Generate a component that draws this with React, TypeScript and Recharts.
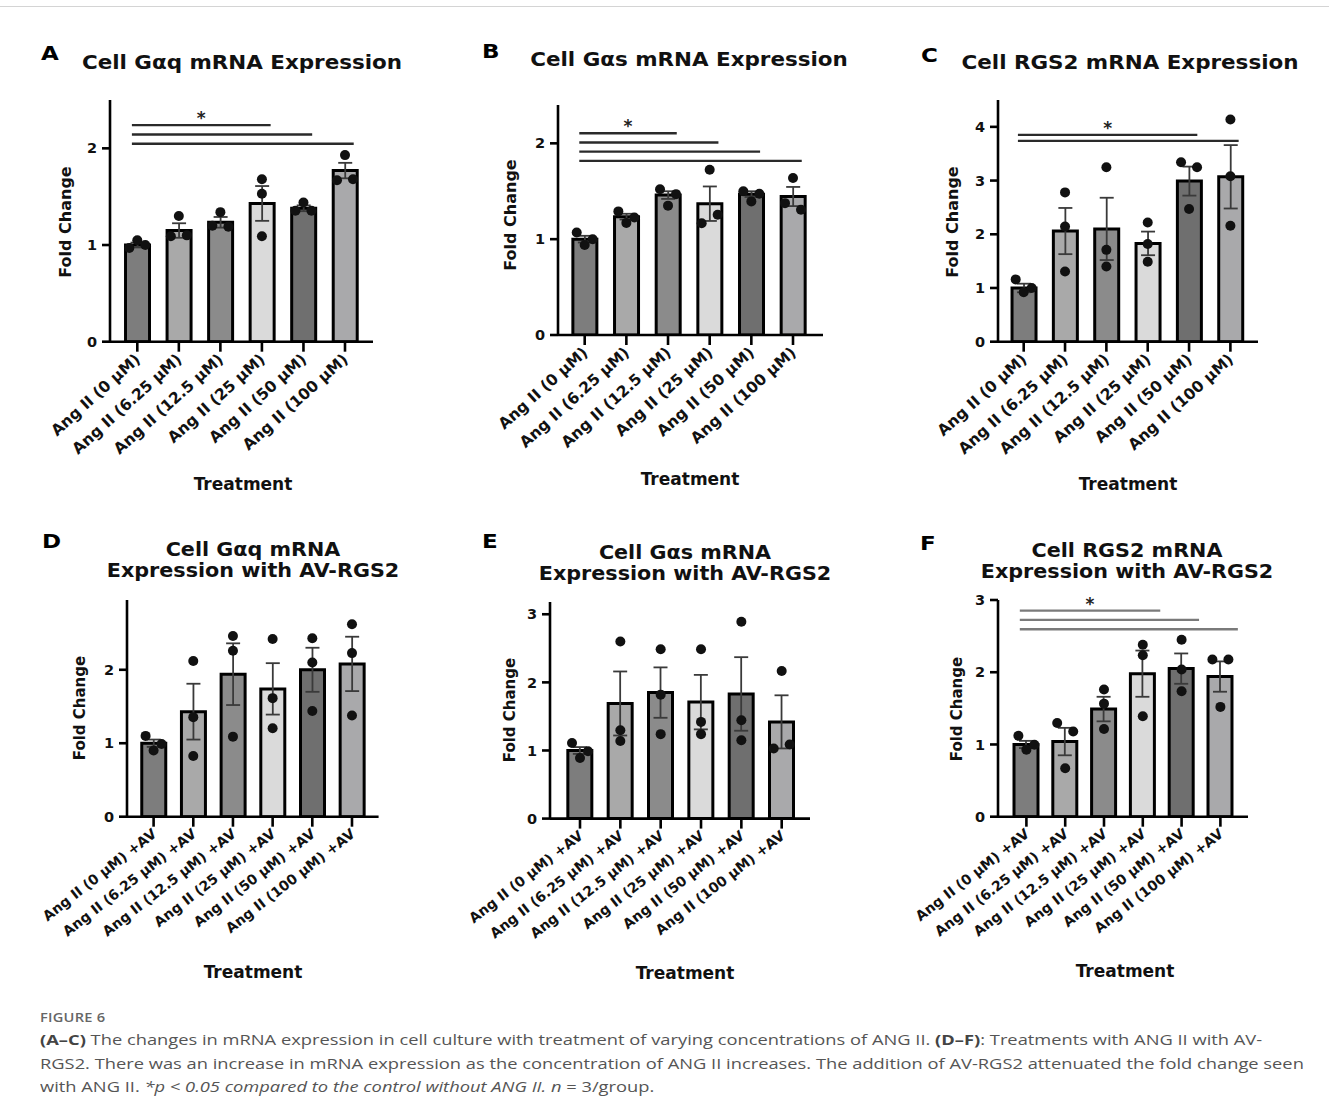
import React from 'react';
import { ComposedChart, Bar, XAxis, YAxis, Scatter, ErrorBar, ReferenceLine, Cell } from 'recharts';

// ---------- data ----------
const ticksTop = ['Ang II (0 µM)', 'Ang II (6.25 µM)', 'Ang II (12.5 µM)', 'Ang II (25 µM)', 'Ang II (50 µM)', 'Ang II (100 µM)'];
const ticksBottom = ['Ang II (0 µM) +AV', 'Ang II (6.25 µM) +AV', 'Ang II (12.5 µM) +AV', 'Ang II (25 µM) +AV', 'Ang II (50 µM) +AV', 'Ang II (100 µM) +AV'];

const meansA = [1.0, 1.15, 1.235, 1.43, 1.38, 1.77];
const semsA = [0.025, 0.075, 0.055, 0.18, 0.03, 0.08];
const pointsA = [[0.97, 1.05, 1.0], [1.09, 1.3, 1.1], [1.2, 1.34, 1.19], [1.68, 1.53, 1.09], [1.355, 1.44, 1.355], [1.67, 1.93, 1.68]];
const sigA = [[1, 4], [1, 5], [1, 6]];

const meansB = [1.0, 1.235, 1.46, 1.37, 1.47, 1.445];
const semsB = [0.035, 0.03, 0.04, 0.18, 0.03, 0.1];
const pointsB = [[1.07, 0.94, 1.0], [1.29, 1.17, 1.226], [1.52, 1.35, 1.47], [1.167, 1.725, 1.254], [1.5, 1.394, 1.474], [1.638, 1.376, 1.307]];
const sigB = [[1, 3], [1, 4], [1, 5], [1, 6]];

const meansC = [1.0, 2.06, 2.1, 1.83, 2.99, 3.07];
const semsC = [0.08, 0.43, 0.58, 0.22, 0.27, 0.59];
const pointsC = [[1.16, 0.92, 1.0], [2.78, 2.146, 1.306], [3.247, 1.71, 1.4], [2.22, 1.82, 1.49], [3.34, 2.47, 3.247], [4.137, 3.08, 2.159]];
const sigC = [[1, 5], [1, 6]];

const meansD = [1.0, 1.43, 1.94, 1.74, 2.0, 2.08];
const semsD = [0.05, 0.38, 0.42, 0.35, 0.3, 0.37];
const pointsD = [[1.1, 0.9, 0.99], [2.12, 1.355, 0.827], [2.46, 2.26, 1.09], [2.418, 1.614, 1.205], [2.43, 2.1, 1.44], [2.62, 2.227, 1.377]];
const sigD: number[][] = [];

const meansE = [1.0, 1.69, 1.85, 1.71, 1.83, 1.42];
const semsE = [0.05, 0.47, 0.37, 0.4, 0.54, 0.39];
const pointsE = [[1.11, 0.89, 0.99], [2.6, 1.297, 1.14], [2.486, 1.82, 1.24], [2.486, 1.42, 1.24], [2.89, 1.444, 1.15], [1.028, 2.168, 1.087]];
const sigE: number[][] = [];

const meansF = [1.0, 1.04, 1.49, 1.98, 2.05, 1.94];
const semsF = [0.05, 0.19, 0.17, 0.32, 0.21, 0.21];
const pointsF = [[1.12, 0.926, 0.995], [1.296, 0.671, 1.18], [1.76, 1.565, 1.213], [2.38, 2.236, 1.39], [2.45, 2.037, 1.736], [2.176, 1.52, 2.176]];
const sigF = [[1, 4], [1, 5], [1, 6]];

// ---------- style / layout ----------
const FONT = '"DejaVu Sans", Verdana, sans-serif';
const CAPTION_FONT = '"Open Sans", sans-serif';
const BAR_FILLS = ['#7d7d7d', '#a9a9a9', '#8b8b8b', '#dadada', '#6f6f6f', '#a9a9ab'];

type Layout = {
  x0: number; x1: number; y0: number; y1: number; yMax: number; yTicks: number[];
  c1: number; c6: number; tickAngle: number; tickFont: number;
  sigTop?: number; sigStep?: number; sigStartOff?: number; sigEndOff?: number; sigColor?: string;
};

const LA: Layout = { x0: 110, x1: 373, y0: 100, y1: 341.7, yMax: 2.5, yTicks: [0, 1, 2], c1: 137.3, c6: 345, tickAngle: -42, tickFont: 15.5, sigTop: 2.24, sigStep: 9.3, sigStartOff: -0.13, sigEndOff: 0.21, sigColor: '#2a2a2a' };
const LB: Layout = { x0: 558.3, x1: 823.3, y0: 105, y1: 335, yMax: 2.4, yTicks: [0, 1, 2], c1: 585, c6: 793.3, tickAngle: -42, tickFont: 15.5, sigTop: 2.105, sigStep: 9.2, sigStartOff: -0.13, sigEndOff: 0.21, sigColor: '#2a2a2a' };
const LC: Layout = { x0: 998.3, x1: 1258.3, y0: 100, y1: 341.7, yMax: 4.5, yTicks: [0, 1, 2, 3, 4], c1: 1024, c6: 1230.7, tickAngle: -42, tickFont: 15.5, sigTop: 3.85, sigStep: 6, sigStartOff: -0.14, sigEndOff: 0.2, sigColor: '#2a2a2a' };
const LD: Layout = { x0: 126.7, x1: 378.3, y0: 600, y1: 816.7, yMax: 2.95, yTicks: [0, 1, 2], c1: 153.3, c6: 351.7, tickAngle: -38, tickFont: 14 };
const LE: Layout = { x0: 550, x1: 810, y0: 601.7, y1: 818.3, yMax: 3.18, yTicks: [0, 1, 2, 3], c1: 580, c6: 781.7, tickAngle: -38, tickFont: 14 };
const LF: Layout = { x0: 998.3, x1: 1248.3, y0: 600, y1: 816.7, yMax: 3, yTicks: [0, 1, 2, 3], c1: 1026.7, c6: 1220.7, tickAngle: -38, tickFont: 14, sigTop: 2.853, sigStep: 9.3, sigStartOff: -0.17, sigEndOff: 0.45, sigColor: '#7a7a7a' };

// Spread overlapping replicate dots horizontally (Prism-like scatter)
function layoutDots(points: number[][], yPx: number, xPx: number) {
  const out: { x: number; y: number }[] = [];
  const step = 8 / xPx;
  points.forEach((vals, i) => {
    const idx = vals.map((_, k) => k).sort((a, b) => vals[a] - vals[b]);
    const clusters: number[][] = [];
    idx.forEach((k) => {
      const last = clusters[clusters.length - 1];
      if (last && (vals[k] - vals[last[last.length - 1]]) * yPx < 10) last.push(k);
      else clusters.push([k]);
    });
    clusters.forEach((c) => {
      const ordered = [...c].sort((a, b) => a - b);
      const n = ordered.length;
      ordered.forEach((k, r) => {
        let off = 0;
        if (n === 2) off = r === 0 ? -1 : 1;
        else if (n >= 3) off = r - (n - 1) / 2;
        out.push({ x: i + 1 + off * step, y: vals[k] });
      });
    });
  });
  return out;
}

const XTick = (props: any) => {
  const { x, y, payload, labels, angle, fontSize } = props;
  const ax = x + 4;
  const ay = y + 7;
  return (
    <text x={ax} y={ay} transform={`rotate(${angle} ${ax} ${ay})`} textAnchor="end" fontFamily={FONT} fontWeight={700} fontSize={fontSize} fill="#111">
      {labels[payload.value - 1]}
    </text>
  );
};

type PanelProps = { L: Layout; labels: string[]; means: number[]; sems: number[]; points: number[][]; sig: number[][] };

function Panel({ L, labels, means, sems, points, sig }: PanelProps) {
  const padL = 110, padR = 30, padT = 40, padB = 150;
  const plotW = L.x1 - L.x0;
  const plotH = L.y1 - L.y0;
  const sp = (L.c6 - L.c1) / 5;
  const xDomain: [number, number] = [1 - (L.c1 - L.x0) / sp, 6 + (L.x1 - L.c6) / sp];
  const yPx = plotH / L.yMax;
  const rows = means.map((m, i) => ({ x: i + 1, mean: m, sem: sems[i] }));
  const dots = layoutDots(points, yPx, sp);
  const axisStyle = { stroke: '#000', strokeWidth: 2.6 };
  return (
    <div style={{ position: 'absolute', left: L.x0 - padL, top: L.y0 - padT }}>
      <ComposedChart width={plotW + padL + padR} height={plotH + padT + padB} data={rows} margin={{ top: padT, right: padR, bottom: 0, left: 0 }}>
        <XAxis
          type="number"
          dataKey="x"
          domain={xDomain}
          allowDataOverflow
          ticks={[1, 2, 3, 4, 5, 6]}
          interval={0}
          height={padB}
          tickSize={10}
          axisLine={axisStyle}
          tickLine={axisStyle}
          tick={(p: any) => <XTick {...p} labels={labels} angle={L.tickAngle} fontSize={L.tickFont} />}
        />
        <XAxis xAxisId="pts" type="number" dataKey="x" domain={xDomain} allowDataOverflow hide />
        <YAxis
          type="number"
          domain={[0, L.yMax]}
          allowDataOverflow
          ticks={L.yTicks}
          interval={0}
          width={padL}
          tickSize={8}
          tickMargin={5}
          axisLine={axisStyle}
          tickLine={axisStyle}
          tick={{ fill: '#111', fontSize: 14.5, fontWeight: 700, fontFamily: FONT }}
        />
        <Bar dataKey="mean" barSize={24} stroke="#000" strokeWidth={3} isAnimationActive={false}>
          {rows.map((_, i) => (
            <Cell key={i} fill={BAR_FILLS[i]} />
          ))}
          <ErrorBar dataKey="sem" width={7} stroke="#3a3a3a" strokeWidth={1.8} direction="y" isAnimationActive={false} />
        </Bar>
        {sig.map(([i, j], k) => {
          const yv = (L.sigTop as number) - (k * (L.sigStep as number)) / yPx;
          return (
            <ReferenceLine
              key={k}
              segment={[{ x: i + (L.sigStartOff as number), y: yv }, { x: j + (L.sigEndOff as number), y: yv }]}
              stroke={L.sigColor}
              strokeWidth={2.4}
              ifOverflow="visible"
              label={k === 0 ? { value: '*', position: 'top', offset: 1, fill: '#222', fontSize: 17, fontWeight: 700, fontFamily: FONT } : undefined}
            />
          );
        })}
        <Scatter
          xAxisId="pts"
          data={dots}
          dataKey="y"
          isAnimationActive={false}
          shape={(p: any) => <circle cx={p.cx} cy={p.cy} r={5} fill="#111" />}
        />
      </ComposedChart>
    </div>
  );
}

// ---------- overlay texts ----------
const panelLetters = [
  { t: 'A', x: 41, y: 60 }, { t: 'B', x: 482, y: 58 }, { t: 'C', x: 921, y: 62 },
  { t: 'D', x: 42, y: 548 }, { t: 'E', x: 482, y: 548 }, { t: 'F', x: 920, y: 550 },
];
const titles = [
  { lines: ['Cell Gαq mRNA Expression'], x: 242, y: [69] },
  { lines: ['Cell Gαs mRNA Expression'], x: 689, y: [66] },
  { lines: ['Cell RGS2 mRNA Expression'], x: 1130, y: [69] },
  { lines: ['Cell Gαq mRNA', 'Expression with AV-RGS2'], x: 253, y: [556, 577] },
  { lines: ['Cell Gαs mRNA', 'Expression with AV-RGS2'], x: 685, y: [559, 580] },
  { lines: ['Cell RGS2 mRNA', 'Expression with AV-RGS2'], x: 1127, y: [557, 578] },
];
const yTitles = [
  { x: 65, y: 222 }, { x: 510.5, y: 215 }, { x: 952, y: 222 },
  { x: 80, y: 708 }, { x: 510, y: 710 }, { x: 957, y: 709 },
];
const xTitles = [
  { x: 243, y: 484 }, { x: 690, y: 479 }, { x: 1128, y: 484 },
  { x: 253, y: 972 }, { x: 685, y: 973 }, { x: 1125, y: 971 },
];

const stretch = (cx: number, k: number) => `translate(${cx} 0) scale(${k} 1) translate(${-cx} 0)`;

export default function App() {
  return (
    <div style={{ position: 'absolute', left: 0, top: 0, width: 1329, height: 1115, background: '#fff', overflow: 'hidden' }}>
      <div style={{ position: 'absolute', left: 0, top: 6, width: 1329, height: 0, borderTop: '1px solid #d4d4d4' }} />
      <Panel L={LA} labels={ticksTop} means={meansA} sems={semsA} points={pointsA} sig={sigA} />
      <Panel L={LB} labels={ticksTop} means={meansB} sems={semsB} points={pointsB} sig={sigB} />
      <Panel L={LC} labels={ticksTop} means={meansC} sems={semsC} points={pointsC} sig={sigC} />
      <Panel L={LD} labels={ticksBottom} means={meansD} sems={semsD} points={pointsD} sig={sigD} />
      <Panel L={LE} labels={ticksBottom} means={meansE} sems={semsE} points={pointsE} sig={sigE} />
      <Panel L={LF} labels={ticksBottom} means={meansF} sems={semsF} points={pointsF} sig={sigF} />
      <svg width={1329} height={1000} style={{ position: 'absolute', left: 0, top: 0, pointerEvents: 'none' }}>
        {panelLetters.map((p) => (
          <text key={p.t} x={p.x} y={p.y} fontFamily={FONT} fontWeight={700} fontSize={20} fill="#000" transform={stretch(p.x, 1.15)}>{p.t}</text>
        ))}
        {titles.map((t, i) =>
          t.lines.map((ln, k) => (
            <text key={`${i}-${k}`} x={t.x} y={t.y[k]} textAnchor="middle" fontFamily={FONT} fontWeight={700} fontSize={i < 3 ? 19.5 : 19} fill="#111" transform={stretch(t.x, i < 3 ? 1.1 : 1.09)}>{ln}</text>
          ))
        )}
        {yTitles.map((t, i) => (
          <text key={i} x={t.x} y={t.y} transform={`rotate(-90 ${t.x} ${t.y})`} textAnchor="middle" dominantBaseline="central" fontFamily={FONT} fontWeight={700} fontSize={i < 3 ? 16 : 15} fill="#111">Fold Change</text>
        ))}
        {xTitles.map((t, i) => (
          <text key={i} x={t.x} y={t.y} textAnchor="middle" dominantBaseline="central" fontFamily={FONT} fontWeight={700} fontSize={17} fill="#111">Treatment</text>
        ))}
      </svg>
      <div style={{ position: 'absolute', left: 40, top: 1008, transform: 'scaleX(1.22)', transformOrigin: 'left top', fontFamily: CAPTION_FONT, color: '#555', whiteSpace: 'nowrap' }}>
        <div style={{ fontSize: 12, lineHeight: '20px', color: '#666', fontWeight: 600, letterSpacing: 0.2 }}>FIGURE 6</div>
        <div style={{ fontSize: 15, lineHeight: '23.5px' }}>
          <div><b style={{ color: '#444' }}>(A–C)</b> The changes in mRNA expression in cell culture with treatment of varying concentrations of ANG II. <b style={{ color: '#444' }}>(D–F)</b>: Treatments with ANG II with AV-</div>
          <div>RGS2. There was an increase in mRNA expression as the concentration of ANG II increases. The addition of AV-RGS2 attenuated the fold change seen</div>
          <div>with ANG II. <i>*p &lt; 0.05 compared to the control without ANG II. n</i> = 3/group.</div>
        </div>
      </div>
    </div>
  );
}
